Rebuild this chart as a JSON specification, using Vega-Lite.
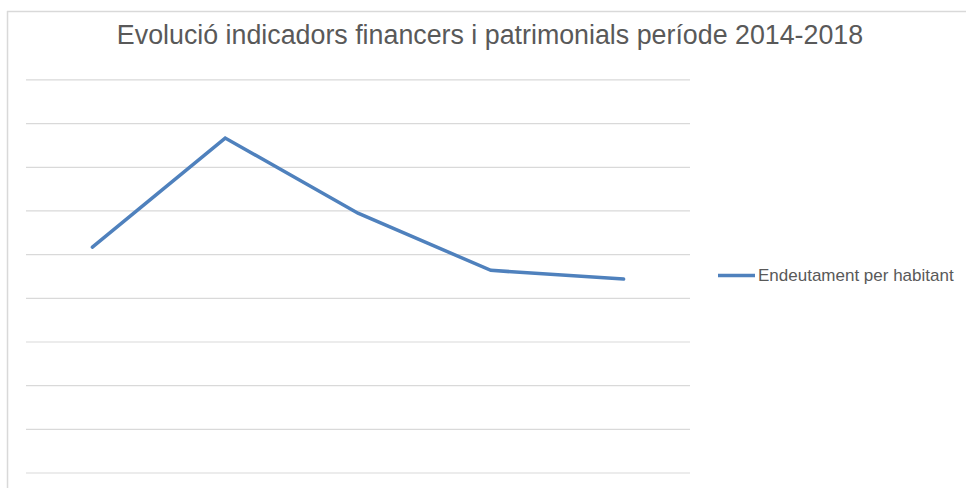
{
  "$schema": "https://vega.github.io/schema/vega-lite/v6.json",
  "autosize": {"type": "none"},
  "padding": {"left": 7, "top": 11, "right": 0, "bottom": 0},
  "width": 959,
  "height": 477,
  "background": "white",
  "title": {
    "text": "Evolució indicadors financers i patrimonials període 2014-2018",
    "anchor": "middle",
    "frame": "group",
    "font": "Liberation Sans",
    "fontSize": 26.8,
    "fontWeight": "normal",
    "color": "#595959",
    "baseline": "alphabetic",
    "offset": 0,
    "dy": 61,
    "dx": 3.5
  },
  "config": {
    "view": {"stroke": null},
    "font": "Liberation Sans"
  },
  "datasets": {
    "frame": [{"part": "frame"}],
    "grid": [
      {"v": 0}, {"v": 1}, {"v": 2}, {"v": 3}, {"v": 4},
      {"v": 5}, {"v": 6}, {"v": 7}, {"v": 8}, {"v": 9}
    ],
    "series": [
      {"any": 2014, "valor": 5.17, "serie": "Endeutament per habitant"},
      {"any": 2015, "valor": 7.67, "serie": "Endeutament per habitant"},
      {"any": 2016, "valor": 5.95, "serie": "Endeutament per habitant"},
      {"any": 2017, "valor": 4.64, "serie": "Endeutament per habitant"},
      {"any": 2018, "valor": 4.44, "serie": "Endeutament per habitant"}
    ]
  },
  "layer": [
    {
      "data": {"name": "frame"},
      "mark": {"type": "rule", "color": "#d9d9d9", "strokeWidth": 1.5},
      "encoding": {
        "x": {"datum": 2013.3607, "type": "quantitative", "scale": {"domain": [2013.3569, 2020.5783], "nice": false, "zero": false}, "axis": null},
        "y": {"datum": 10.579, "type": "quantitative", "scale": {"domain": [-0.3435, 10.579], "nice": false, "zero": false}, "axis": null},
        "y2": {"datum": -0.3435}
      }
    },
    {
      "data": {"name": "frame"},
      "mark": {"type": "rule", "color": "#d9d9d9", "strokeWidth": 1.5},
      "encoding": {
        "y": {"datum": 10.5676, "type": "quantitative", "axis": null},
        "x": {"datum": 2013.3569, "type": "quantitative", "axis": null},
        "x2": {"datum": 2020.5783}
      }
    },
    {
      "data": {"name": "grid"},
      "mark": {"type": "rule", "color": "#d9d9d9", "strokeWidth": 1.2},
      "encoding": {
        "y": {"field": "v", "type": "quantitative", "axis": null},
        "x": {"datum": 2013.5, "type": "quantitative", "axis": null},
        "x2": {"datum": 2018.5}
      }
    },
    {
      "data": {"name": "series"},
      "mark": {"type": "line", "strokeWidth": 3.5, "strokeCap": "round", "strokeJoin": "miter"},
      "encoding": {
        "x": {"field": "any", "type": "quantitative", "axis": null},
        "y": {"field": "valor", "type": "quantitative", "axis": null},
        "color": {
          "field": "serie",
          "type": "nominal",
          "scale": {"range": ["#4f81bd"]},
          "legend": {
            "orient": "none",
            "legendX": 709,
            "legendY": 244,
            "title": null,
            "symbolType": "stroke",
            "symbolSize": 1369,
            "symbolStrokeWidth": 3.5,
            "labelFont": "Liberation Sans",
            "labelFontSize": 17,
            "labelColor": "#595959",
            "labelOffset": 1,
            "labelLimit": 0,
            "padding": 0
          }
        }
      }
    }
  ]
}
